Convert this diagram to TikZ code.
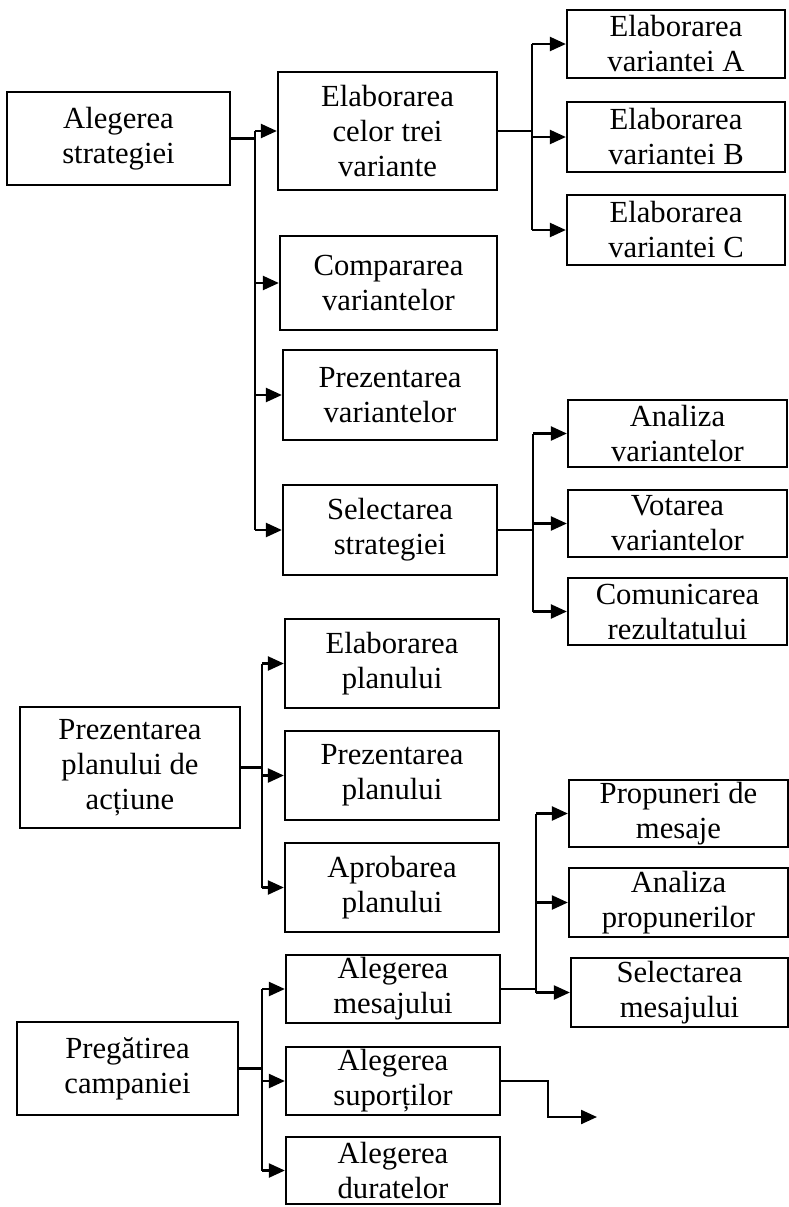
\documentclass[tikz,border=0pt]{standalone}
\usepackage{fontspec}
\setmainfont{Liberation Serif}
\usetikzlibrary{arrows.meta}
\tikzset{
  box/.style={draw, line width=1.7pt, inner sep=0pt, align=center,
    font=\fontsize{23}{26.25}\selectfont},
  conn/.style={line width=1.7pt},
  arr/.style={conn, -{Triangle[length=12pt,width=10.5pt]}},
}
\newcommand\mybox[6]{\node[box, minimum width={(#4-#2)*0.75pt}, minimum height={(#5-#3)*0.75pt}] (#1) at ({(#2+#4)/2},{(#3+#5)/2}) {#6};}
\begin{document}
\begin{tikzpicture}[x=0.75pt,y=-0.75pt]
\useasboundingbox (0,0) rectangle (789,1207);
% level 1
\mybox{as}{7}{92}{230}{185}{Alegerea\\strategiei}
\mybox{pp}{20}{707}{240}{828}{Prezentarea\\planului de\\acțiune}
\mybox{pc}{17}{1022}{238}{1115}{Pregătirea\\campaniei}
% level 2 (strategy)
\mybox{ect}{278}{72}{497}{190}{Elaborarea\\celor trei\\variante}
\mybox{cv}{280}{236}{497}{330}{Compararea\\variantelor}
\mybox{pv}{283}{350}{497}{440}{Prezentarea\\variantelor}
\mybox{ss}{283}{485}{497}{575}{Selectarea\\strategiei}
% level 3
\mybox{va}{567}{10}{785}{78}{Elaborarea\\variantei A}
\mybox{vb}{567}{102}{785}{172}{Elaborarea\\variantei B}
\mybox{vc}{567}{195}{785}{265}{Elaborarea\\variantei C}
\mybox{av}{568}{400}{787}{467}{Analiza\\variantelor}
\mybox{vv}{568}{490}{787}{557}{Votarea\\variantelor}
\mybox{cr}{568}{578}{787}{645}{Comunicarea\\rezultatului}
% level 2 (plan)
\mybox{ep}{285}{619}{499}{708}{Elaborarea\\planului}
\mybox{prp}{285}{731}{499}{820}{Prezentarea\\planului}
\mybox{ap}{285}{843}{499}{932}{Aprobarea\\planului}
% level 2 (campaign)
\mybox{am}{286}{955}{500}{1023}{Alegerea\\mesajului}
\mybox{asp}{286}{1047}{500}{1115}{Alegerea\\suporților}
\mybox{ad}{286}{1137}{500}{1204}{Alegerea\\duratelor}
% level 3 (messages)
\mybox{pm}{569}{780}{788}{847}{Propuneri de\\mesaje}
\mybox{apr}{569}{868}{788}{937}{Analiza\\propunerilor}
\mybox{sm}{571}{958}{788}{1027}{Selectarea\\mesajului}
% trunk coordinates
\coordinate (t1) at (255,0);
\coordinate (t2) at (532,0);
\coordinate (t3) at (533,0);
\coordinate (t4) at (262,0);
\coordinate (t5) at (262,0);
\coordinate (t6) at (536,0);
\coordinate (bend) at (548,0);
\coordinate (free) at (597,1117);
% Alegerea strategiei
\draw[conn] (as.east) -- (as.east -| t1);
\draw[conn] (t1 |- ect.west) -- (t1 |- ss.west);
\foreach \n in {ect,cv,pv,ss} \draw[arr] (t1 |- \n.west) -- (\n.west);
% Elaborarea celor trei variante
\draw[conn] (ect.east) -- (ect.east -| t2);
\draw[conn] (t2 |- va.west) -- (t2 |- vc.west);
\foreach \n in {va,vb,vc} \draw[arr] (t2 |- \n.west) -- (\n.west);
% Selectarea strategiei
\draw[conn] (ss.east) -- (ss.east -| t3);
\draw[conn] (t3 |- av.west) -- (t3 |- cr.west);
\foreach \n in {av,vv,cr} \draw[arr] (t3 |- \n.west) -- (\n.west);
% Prezentarea planului de actiune
\draw[conn] (pp.east) -- (pp.east -| t4);
\draw[conn] (t4 |- ep.west) -- (t4 |- ap.west);
\foreach \n in {ep,prp,ap} \draw[arr] (t4 |- \n.west) -- (\n.west);
% Pregatirea campaniei
\draw[conn] (pc.east) -- (pc.east -| t5);
\draw[conn] (t5 |- am.west) -- (t5 |- ad.west);
\foreach \n in {am,asp,ad} \draw[arr] (t5 |- \n.west) -- (\n.west);
% Alegerea mesajului
\draw[conn] (am.east) -- (am.east -| t6);
\draw[conn] (t6 |- pm.west) -- (t6 |- sm.west);
\foreach \n in {pm,apr,sm} \draw[arr] (t6 |- \n.west) -- (\n.west);
% Alegerea suportilor
\draw[arr] (asp.east) -- (asp.east -| bend) |- (free);
\end{tikzpicture}
\end{document}
